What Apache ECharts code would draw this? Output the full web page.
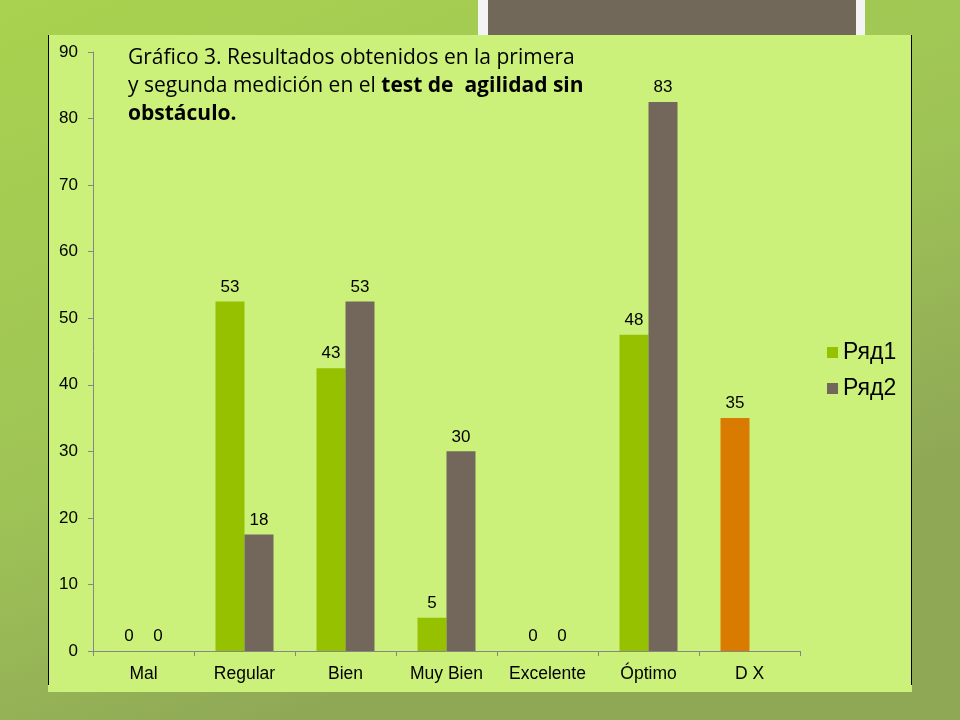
<!DOCTYPE html>
<html>
<head>
<meta charset="utf-8">
<script src="https://cdn.jsdelivr.net/npm/echarts@6/dist/echarts.min.js"></script>
<style>html,body{margin:0;padding:0;}#c{width:960px;height:720px;}</style>
</head>
<body>
<div id="c"></div>
<script>
const categories = ['Mal', 'Regular', 'Bien', 'Muy Bien', 'Excelente', 'Óptimo', 'D X'];
const serie1 = [0, 52.5, 42.5, 5, 0, 47.5, 35];
const serie2 = [0, 17.5, 52.5, 30, 0, 82.5, null];
const seriesNames = ['Ряд1', 'Ряд2'];
const highlightCategory = 'D X';

const green = '#95c100', grey = '#72675a', orange = '#d97b00';
const chart = echarts.init(document.getElementById('c'));

const s1 = serie1.map((v, i) => categories[i] === highlightCategory ? {value: v, itemStyle: {color: orange}} : v);
const s2 = serie2.map(v => v === null ? '-' : v);

const labelCfg = {show: true, position: 'top', distance: 6, color: '#000', fontFamily: 'Liberation Sans, Arial', fontSize: 17,
  formatter: p => Math.round(p.value)};

chart.setOption({
  animation: false,
  backgroundColor: {type: 'linear', x: 0, y: 0, x2: 0.3, y2: 1, colorStops: [
    {offset: 0, color: '#a9d24f'}, {offset: 0.6, color: '#9fc456'}, {offset: 1, color: '#8fa856'}]},
  graphic: [
    {type: 'rect', shape: {x: 478, y: 0, width: 387, height: 35}, style: {fill: '#f4f4f4'}, z: 0},
    {type: 'rect', shape: {x: 488, y: 0, width: 368, height: 35}, style: {fill: '#72685a'}, z: 0},
    {type: 'rect', shape: {x: 48, y: 35, width: 864, height: 657}, style: {fill: '#ccf17a'}, z: 0},
    {type: 'line', shape: {x1: 48.5, y1: 35, x2: 48.5, y2: 685}, style: {stroke: '#000', lineWidth: 1}, z: 1},
    {type: 'line', shape: {x1: 911.5, y1: 35, x2: 911.5, y2: 685}, style: {stroke: '#000', lineWidth: 1}, z: 1},
    {type: 'text', left: 128, top: 48, z: 10, style: {
      text: '{n|Gráfico 3. Resultados obtenidos en la primera}\n{n|y segunda medición en el }{b|test de  agilidad sin}\n{b|obstáculo.}',
      rich: {
        n: {fontFamily: 'Open Sans, Noto Sans', fontSize: 21, lineHeight: 28, fill: '#000'},
        b: {fontFamily: 'Open Sans, Noto Sans', fontSize: 21, fontWeight: 'bold', lineHeight: 28, fill: '#000'}
      }
    }}
  ],
  legend: {
    orient: 'vertical', left: 822, top: 336, itemWidth: 11, itemHeight: 11, itemGap: 13,
    icon: 'rect',
    textStyle: {fontFamily: 'Liberation Sans, Arial', fontSize: 23, lineHeight: 23, color: '#000'},
    data: seriesNames
  },
  grid: {left: 93, right: 160, top: 52, bottom: 69, containLabel: false},
  xAxis: {
    type: 'category', data: categories,
    axisLine: {lineStyle: {color: '#868686'}},
    axisTick: {show: true, interval: 0, length: 5, alignWithLabel: false, lineStyle: {color: '#868686'}},
    axisLabel: {interval: 0, hideOverlap: false, color: '#000', fontFamily: 'Liberation Sans, Arial', fontSize: 17.5, margin: 14}
  },
  yAxis: {
    type: 'value', min: 0, max: 90, interval: 10,
    axisLine: {show: true, lineStyle: {color: '#868686'}},
    axisTick: {show: true, length: 5, lineStyle: {color: '#868686'}},
    splitLine: {show: false},
    axisLabel: {color: '#000', fontFamily: 'Liberation Sans, Arial', fontSize: 17, margin: 15}
  },
  series: [
    {name: seriesNames[0], type: 'bar', data: s1, barWidth: 29, barGap: '0%', itemStyle: {color: green}, label: labelCfg},
    {name: seriesNames[1], type: 'bar', data: s2, barWidth: 29, barGap: '0%', itemStyle: {color: grey}, label: labelCfg}
  ]
});
</script>
</body>
</html>
